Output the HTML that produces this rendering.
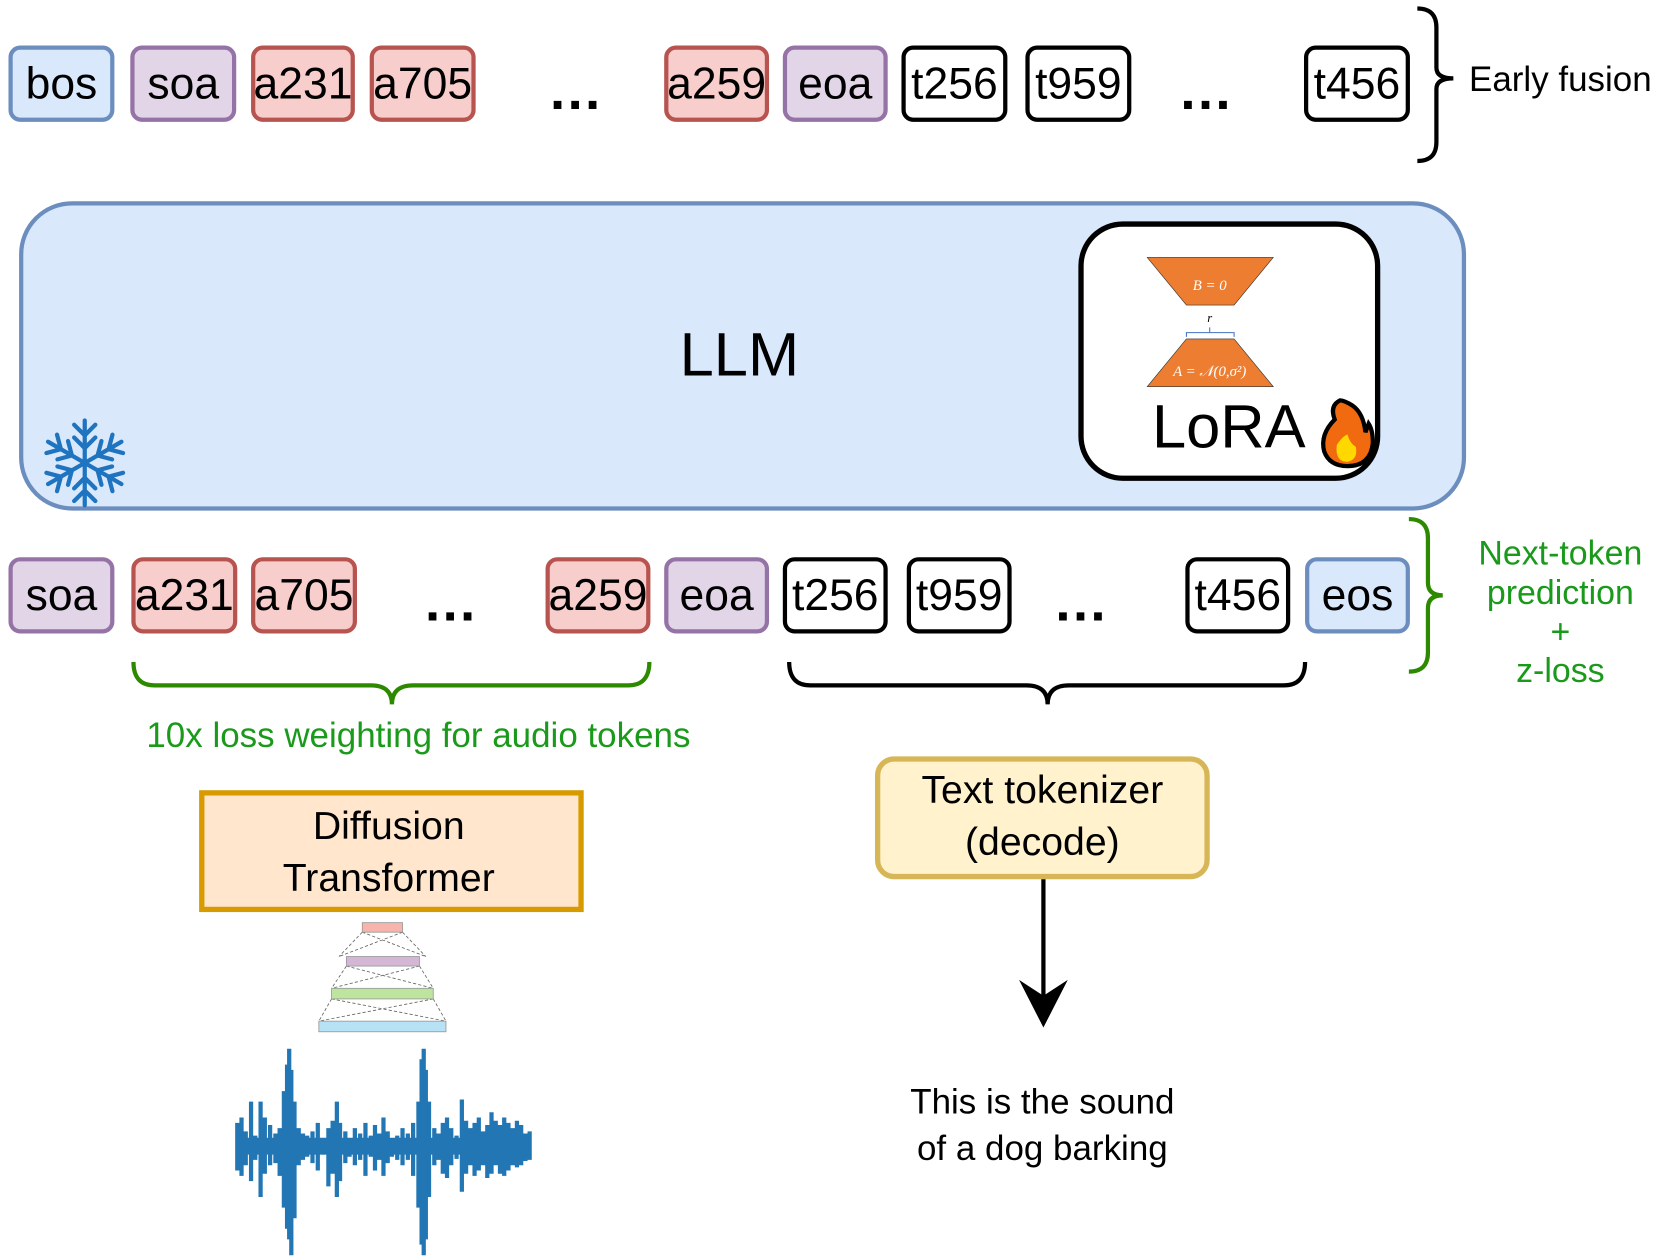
<!DOCTYPE html>
<html><head><meta charset="utf-8"><style>
body{margin:0;background:#fff;width:1661px;height:1258px;overflow:hidden}
#w{position:absolute;left:0;top:0;width:1568px;height:1188px;transform:scale(1.0593);transform-origin:0 0;font-family:"Liberation Sans",sans-serif}
.t{position:absolute;box-sizing:border-box;border:4px solid #000;border-radius:11px;background:#fff;display:flex;align-items:center;justify-content:center;font-size:42px;color:#000}
.b{background:#dae8fc;border-color:#6c8ebf}.p{background:#e1d5e7;border-color:#9673a6}.r{background:#f8cecc;border-color:#b85450}
.tx{position:absolute;white-space:nowrap;transform:translate(-50%,-50%);text-align:center}
.g{color:#1a9a1a}
.d{font-size:52px;font-weight:bold}
</style></head><body><div id="w">
<!-- top row -->
<div class="t b" style="left:8px;top:43px;width:100px;height:72px">bos</div>
<div class="t p" style="left:123px;top:43px;width:100px;height:72px">soa</div>
<div class="t r" style="left:237px;top:43px;width:98px;height:72px">a231</div>
<div class="t r" style="left:349px;top:43px;width:100px;height:72px">a705</div>
<div class="tx d" style="left:543px;top:86px">…</div>
<div class="t r" style="left:627px;top:43px;width:99px;height:72px">a259</div>
<div class="t p" style="left:739px;top:43px;width:99px;height:72px">eoa</div>
<div class="t" style="left:851px;top:43px;width:100px;height:72px">t256</div>
<div class="t" style="left:968px;top:43px;width:100px;height:72px">t959</div>
<div class="tx d" style="left:1138px;top:86px">…</div>
<div class="t" style="left:1231px;top:43px;width:100px;height:72px">t456</div>
<div class="tx" style="left:1473px;top:75px;font-size:33px">Early fusion</div>
<!-- LLM -->
<div style="position:absolute;left:18px;top:190px;width:1366px;height:292px;box-sizing:border-box;background:#dae8fc;border:4px solid #6c8ebf;border-radius:50px"></div>
<div class="tx" style="left:698px;top:335px;font-size:58px">LLM</div>
<div style="position:absolute;left:1018px;top:209px;width:285px;height:245px;box-sizing:border-box;background:#fff;border:5px solid #000;border-radius:42px"></div>
<div class="tx" style="left:1160px;top:403px;font-size:58px">LoRA</div>
<!-- bottom row -->
<div class="t p" style="left:8px;top:526px;width:100px;height:72px">soa</div>
<div class="t r" style="left:124px;top:526px;width:100px;height:72px">a231</div>
<div class="t r" style="left:237px;top:526px;width:100px;height:72px">a705</div>
<div class="tx d" style="left:425px;top:569px">…</div>
<div class="t r" style="left:515px;top:526px;width:99px;height:72px">a259</div>
<div class="t p" style="left:627px;top:526px;width:99px;height:72px">eoa</div>
<div class="t" style="left:739px;top:526px;width:99px;height:72px">t256</div>
<div class="t" style="left:856px;top:526px;width:99px;height:72px">t959</div>
<div class="tx d" style="left:1020px;top:569px">…</div>
<div class="t" style="left:1119px;top:526px;width:99px;height:72px">t456</div>
<div class="t b" style="left:1232px;top:526px;width:99px;height:72px">eos</div>
<div class="tx g" style="left:1473px;top:578px;font-size:32px;line-height:37px">Next-token<br>prediction<br>+<br>z-loss</div>
<div class="tx g" style="left:395px;top:694px;font-size:33px">10x loss weighting for audio tokens</div>
<!-- boxes -->
<div style="position:absolute;left:188px;top:746px;width:363px;height:115px;box-sizing:border-box;background:#ffe6cc;border:5px solid #d79b00"></div>
<div class="tx" style="left:367px;top:804px;font-size:37px;line-height:49px">Diffusion<br>Transformer</div>
<div style="position:absolute;left:826px;top:714px;width:316px;height:116px;box-sizing:border-box;background:#fff2cc;border:5px solid #d6b656;border-radius:18px"></div>
<div class="tx" style="left:984px;top:770px;font-size:37px;line-height:49px">Text tokenizer<br>(decode)</div>
<div class="tx" style="left:984px;top:1062px;font-size:33px;line-height:44px">This is the sound<br>of a dog barking</div>
<svg width="1568" height="1188" style="position:absolute;left:0;top:0" fill="none">
<path d="M1338 8 q18 0 18 18 v38 q0 10 16 10 q-16 0 -16 10 v50 q0 18 -18 18" stroke="#000" stroke-width="4"/>
<path d="M1330 490 q18 0 18 18 v42 q0 12 14 12 q-14 0 -14 12 v42 q0 18 -18 18" stroke="#2d8a00" stroke-width="4"/>
<path d="M126 625 q0 22 20 22 h204 q20 0 20 18 q0 -18 20 -18 h203 q20 0 20 -22" stroke="#2d8a00" stroke-width="4"/>
<path d="M745 625 q0 22 20 22 h204 q20 0 20 18 q0 -18 20 -18 h203 q20 0 20 -22" stroke="#000" stroke-width="4"/>
<path d="M985 830 V950" stroke="#000" stroke-width="4"/>
<path d="M962 925 L985 970 L1008 925 L985 940 Z" fill="#000"/>
<polygon points="1083,243 1202,243 1165,288 1120,288" fill="#ed7d31" stroke="#333" stroke-width="0.6"/>
<polygon points="1120,320 1165,320 1202,365 1083,365" fill="#ed7d31" stroke="#333" stroke-width="0.6"/>
<text x="1142" y="274" font-family="Liberation Serif" font-style="italic" font-size="14" fill="#fff" text-anchor="middle">B = 0</text>
<text x="1142" y="355" font-family="Liberation Serif" font-style="italic" font-size="14" fill="#fff" text-anchor="middle">A = 𝒩(0,σ²)</text>
<text x="1142" y="304" font-family="Liberation Serif" font-style="italic" font-size="12" fill="#000" text-anchor="middle">r</text>
<path d="M1120 318 v-4 h45 v4 M1142 314 v-5" stroke="#4472c4" stroke-width="1"/>
<path d="M1265 378 q-10 5 -5 18 q-14 14 -10 30 q5 14 22 14 q22 0 24 -22 q0 -12 -4 -18 l-3 8 q-2 -18 -12 -25 q-8 -5 -12 -5 z" fill="#f26a10" stroke="#000" stroke-width="4"/>
<path d="M1262 420 q5 -8 10 -10 q2 8 8 12 q2 12 -8 14 q-12 0 -10 -16z" fill="#ffd800"/>
<g stroke="#1f74c0" stroke-width="4" stroke-linecap="round" transform="translate(80,437)">
<g id="arm"><path d="M0 0 V-40 M0 -26 l-10 -10 M0 -26 l10 -10 M0 -14 l-10 -10 M0 -14 l10 -10"/></g>
<use href="#arm" transform="rotate(60)"/><use href="#arm" transform="rotate(120)"/><use href="#arm" transform="rotate(180)"/><use href="#arm" transform="rotate(240)"/><use href="#arm" transform="rotate(300)"/>
</g>
<g stroke="#666" stroke-width="0.8" stroke-dasharray="3 2">
<path d="M342 880 L320 903 M380 880 L402 903 M342 880 L402 903 M380 880 L320 903 M327 912 L313 933 M396 912 L409 933 M327 912 L409 933 M396 912 L313 933 M313 943 L301 964 M409 943 L421 964 M313 943 L421 964 M409 943 L301 964"/>
</g>
<rect x="342" y="871" width="38" height="9" fill="#f8b3ad" stroke="#999" stroke-width=".8"/>
<rect x="327" y="903" width="69" height="9" fill="#d4b7d6" stroke="#999" stroke-width=".8"/>
<rect x="313" y="933" width="96" height="10" fill="#bde5a0" stroke="#999" stroke-width=".8"/>
<rect x="301" y="964" width="120" height="10" fill="#b7e2f6" stroke="#999" stroke-width=".8"/>
<g stroke="#2276b4" stroke-width="4">
<path d="M224 1060V1105M228 1055V1110M232 1068V1100M237 1040V1115M241 1072V1095M246 1040V1130M250 1055V1108M255 1062V1100M260 1070V1098M264 1065V1110M268 1030V1140M271 1005V1160M273 990V1170M275 1010V1185M278 1040V1150M282 1065V1100M286 1070V1095M290 1072V1092M295 1068V1098M300 1060V1105M305 1075V1090M310 1065V1120M314 1058V1108M318 1040V1130M321 1060V1115M326 1068V1098M330 1075V1092M335 1065V1100M340 1070V1095M345 1060V1110M350 1072V1092M354 1062V1105M358 1070V1095M362 1055V1110M366 1068V1098M370 1075V1092M375 1072V1095M380 1065V1100M385 1070V1095M390 1060V1110M395 1040V1140M398 1000V1175M400 990V1185M402 1010V1170M405 1040V1130M410 1065V1100M414 1070V1095M418 1060V1108M422 1055V1112M426 1065V1100M431 1072V1094M436 1038V1125M440 1058V1108M444 1065V1100M448 1060V1110M452 1055V1105M456 1068V1100M460 1062V1112M464 1050V1108M468 1058V1100M472 1062V1108M476 1055V1110M480 1060V1105M484 1065V1100M488 1058V1102M492 1062V1100M496 1070V1096M500 1068V1095"/>
<path d="M224 1082H501" stroke-width="16"/>
</g>
</svg>
</div></body></html>
